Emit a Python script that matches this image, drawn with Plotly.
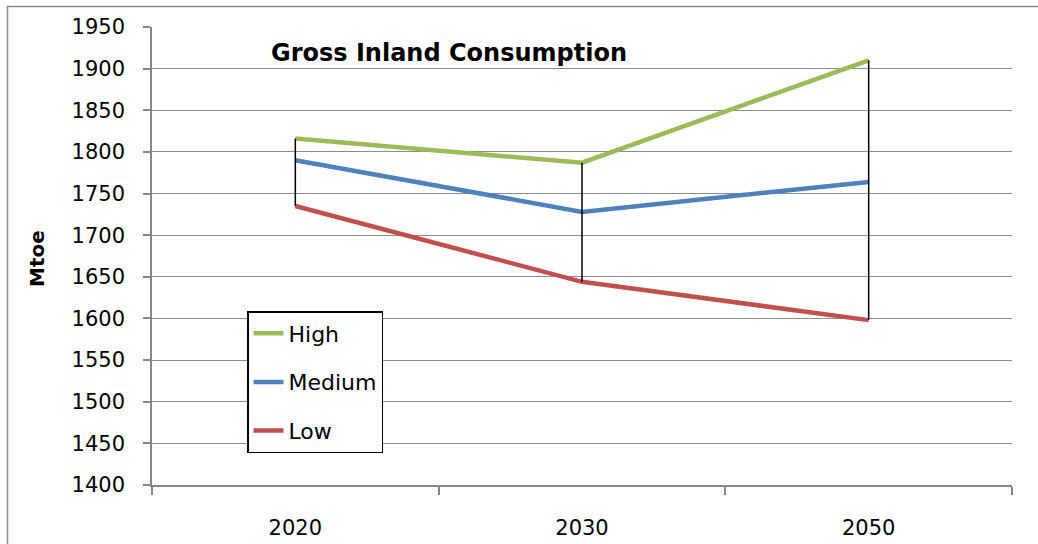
import plotly.graph_objects as go

years = ["2020", "2030", "2050"]
high = [1816, 1787, 1910]
medium = [1790, 1728, 1764]
low = [1735, 1644, 1598]
series_names = ["High", "Medium", "Low"]
series_colors = ["#9BBB59", "#4F81BD", "#C0504D"]
y_ticks = list(range(1400, 1951, 50))

W, H = 1038, 544
L, R, T, B = 152, 26, 27, 59
pw, ph = W - L - R, H - T - B

def px_x(p):
    return (p - L) / pw

def px_y(p):
    return (H - B - p) / ph

fig = go.Figure()

for name, vals, col in zip(series_names, [high, medium, low], series_colors):
    fig.add_trace(go.Scatter(
        x=years, y=vals, name=name, mode="lines",
        line=dict(color=col, width=4.5),
        legendgroup=name,
    ))

# high-low lines
hl_x, hl_y = [], []
for yr, lo, hi in zip(years, low, high):
    hl_x += [yr, yr, None]
    hl_y += [lo, hi, None]
fig.add_trace(go.Scatter(x=hl_x, y=hl_y, mode="lines",
                         line=dict(color="black", width=1.5),
                         showlegend=False, hoverinfo="skip"))

fig.update_layout(
    width=W, height=H,
    margin=dict(l=L, r=R, t=T, b=B, autoexpand=False),
    paper_bgcolor="white", plot_bgcolor="white",
    font=dict(family="DejaVu Sans", size=21, color="black"),
    title=dict(text="<b>Gross Inland Consumption</b>",
               font=dict(family="DejaVu Sans", size=24, color="black"),
               x=449 / W, xanchor="center", xref="container",
               y=1 - 53 / H, yanchor="middle", yref="container"),
    showlegend=True,
    legend=dict(x=px_x(247), y=px_y(311), xanchor="left", yanchor="top",
                bordercolor="black", borderwidth=1.5, bgcolor="white",
                font=dict(family="DejaVu Sans", size=22, color="black"),
                tracegroupgap=17, traceorder="grouped",
                entrywidth=150, entrywidthmode="pixels"),
    xaxis=dict(type="category", range=[-0.5, 2.5], showgrid=False,
               showline=True, linecolor="#868686", linewidth=1.5,
               ticks="outside", tickson="boundaries", ticklen=8,
               tickcolor="#868686", tickwidth=1.5,
               ticklabelstandoff=23, tickfont=dict(size=21)),
    yaxis=dict(range=[1400, 1950], tickvals=y_ticks, showgrid=True,
               gridcolor="#8c8c8c", gridwidth=1.3,
               showline=True, linecolor="#868686", linewidth=1.5,
               ticks="outside", ticklen=7, tickcolor="#868686", tickwidth=1.5,
               ticklabelstandoff=14, tickfont=dict(size=21), zeroline=False),
    annotations=[dict(text="<b>Mtoe</b>", textangle=-90, showarrow=False,
                      xref="paper", yref="paper", x=px_x(37), y=px_y(259),
                      xanchor="center", yanchor="middle",
                      font=dict(family="DejaVu Sans", size=20, color="black"))],
    shapes=[dict(type="rect", xref="paper", yref="paper",
                 x0=px_x(7.5), x1=px_x(1060), y0=px_y(560), y1=px_y(6.5),
                 line=dict(color="#8a8a8a", width=1.5), layer="below")],
)

fig.write_html("out.html")
